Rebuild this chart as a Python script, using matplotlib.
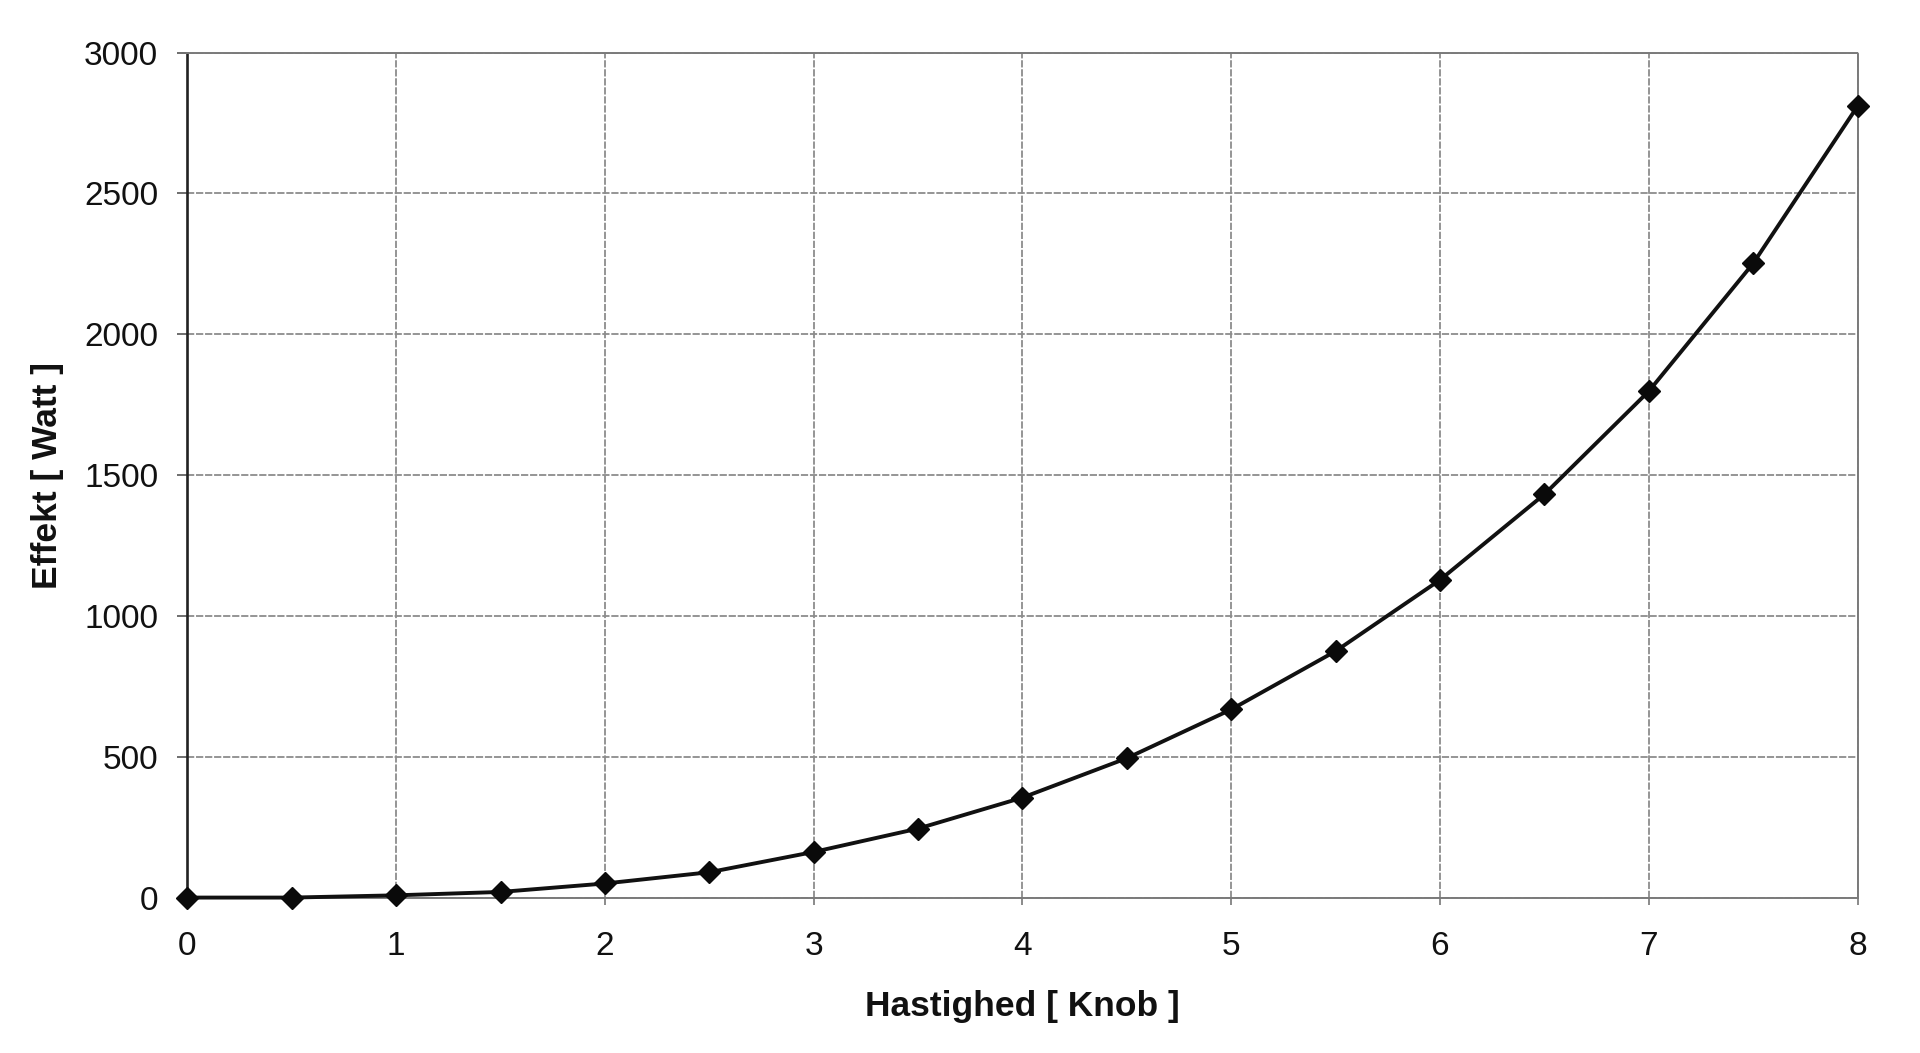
import matplotlib
matplotlib.use("Agg")
import matplotlib.pyplot as plt

plt.rcParams['font.family'] = ['Liberation Sans', 'DejaVu Sans']

speed_knots = [0, 0.5, 1, 1.5, 2, 2.5, 3, 3.5, 4, 4.5, 5, 5.5, 6, 6.5, 7, 7.5, 8]
power_watt = [0, 0, 8, 20, 50, 90, 162, 245, 355, 495, 668, 875, 1128, 1432, 1798, 2252, 2810]
x_ticks = [0, 1, 2, 3, 4, 5, 6, 7, 8]
y_ticks = [0, 500, 1000, 1500, 2000, 2500, 3000]
x_label = "Hastighed [ Knob ]"
y_label = "Effekt [ Watt ]"

fig = plt.figure(figsize=(19.2, 10.53), dpi=100)
ax = fig.add_axes([0.0976, 0.1476, 0.8699, 0.8024])

ax.plot(speed_knots, power_watt, color='#111111', linewidth=2.8,
        marker='D', markersize=11, markerfacecolor='#0a0a0a',
        markeredgecolor='#0a0a0a', zorder=3, clip_on=False)

ax.set_xlim(0, 8)
ax.set_ylim(0, 3000)
ax.set_xticks(x_ticks)
ax.set_yticks(y_ticks)
ax.set_xticklabels([str(v) for v in x_ticks])
ax.set_yticklabels([str(v) for v in y_ticks])

ax.grid(True, color='#8c8c8c', linestyle=(0, (4, 1)), linewidth=1.3, zorder=1)

for side in ['top', 'right', 'bottom']:
    ax.spines[side].set_color('#7a7a7a')
    ax.spines[side].set_linewidth(1.4)
    ax.spines[side].set_linestyle((0, (4, 1)))
ax.spines['left'].set_color('#222222')
ax.spines['left'].set_linewidth(1.9)

ax.tick_params(axis='y', direction='out', length=7, width=1.2, color='#555555',
               pad=14, labelsize=24, labelcolor='#111111')
ax.tick_params(axis='x', direction='out', length=5, width=1.2, color='#777777',
               pad=19, labelsize=24, labelcolor='#111111')

ax.set_xlabel(x_label, fontsize=25.5, fontweight='bold', color='#111111')
ax.set_ylabel(y_label, fontsize=25.5, fontweight='bold', color='#111111')
ax.xaxis.label.set_va('center')
ax.yaxis.label.set_va('center')
ax.xaxis.set_label_coords(0.5, -0.129)
ax.yaxis.set_label_coords(-0.084, 0.5)

fig.savefig("out.png", dpi=100, facecolor='white')
